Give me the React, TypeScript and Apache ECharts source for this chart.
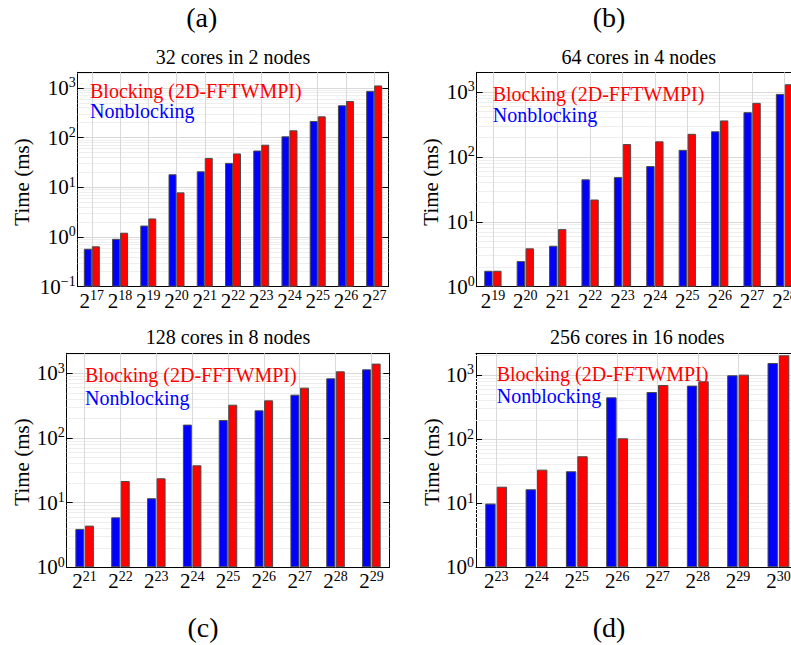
import React, { useEffect, useRef } from 'react';
import * as echarts from 'echarts';

const FONT = 'Liberation Serif';
const fontStr = (size: number) => `${size}px "Liberation Serif"`;

// ---------- data ----------
const catsA = ['2^17', '2^18', '2^19', '2^20', '2^21', '2^22', '2^23', '2^24', '2^25', '2^26', '2^27'];
const nonA = [0.58, 0.92, 1.7, 18.3, 21, 31, 55, 106, 216, 447, 870];
const blockA = [0.65, 1.22, 2.36, 7.9, 39, 48, 72, 140, 268, 545, 1120];

const catsB = ['2^19', '2^20', '2^21', '2^22', '2^23', '2^24', '2^25', '2^26', '2^27', '2^28'];
const nonB = [1.76, 2.48, 4.27, 45, 48.7, 72, 128, 247, 487, 930];
const blockB = [1.76, 3.9, 7.7, 22, 157, 173, 226, 363, 677, 1310];

const catsC = ['2^21', '2^22', '2^23', '2^24', '2^25', '2^26', '2^27', '2^28', '2^29'];
const nonC = [3.92, 5.93, 11.7, 161, 190, 268, 468, 837, 1153];
const blockC = [4.41, 21.6, 23.8, 37.8, 327, 382, 600, 1073, 1413];

const catsD = ['2^23', '2^24', '2^25', '2^26', '2^27', '2^28', '2^29', '2^30'];
const nonD = [9.85, 16.5, 31.5, 449, 543, 683, 989, 1541];
const blockD = [18.1, 33.4, 54, 103, 699, 797, 1013, 2030];

const titles = ['32 cores in 2 nodes', '64 cores in 4 nodes', '128 cores in 8 nodes', '256 cores in 16 nodes'];
const tags = ['(a)', '(b)', '(c)', '(d)'];
const legendBlocking = 'Blocking (2D-FFTWMPI)';
const legendNonblocking = 'Nonblocking';
const yName = 'Time (ms)';
const yMins = [0.1, 1, 1, 1];
const yMaxs = [2060, 2000, 2040, 2180];

const BLUE = '#0000ff';
const RED = '#ff0000';

const panels = [
  { cats: catsA, non: nonA, block: blockA, grid: { left: 77.7, top: 72.3, width: 310.6, height: 214.4 }, barWidth: 8, barGap: '0%', nameX: 22, nameY: 182, legX: 90, legY1: 91, legY2: 111, tagX: 201.7, tagY: 17, titleY: 57 },
  { cats: catsB, non: nonB, block: blockB, grid: { left: 476.7, top: 72.3, width: 324, height: 214.4 }, barWidth: 8.4, barGap: '6%', nameX: 431, nameY: 182, legX: 492.7, legY1: 94, legY2: 115, tagX: 609, tagY: 17, titleY: 57 },
  { cats: catsC, non: nonC, block: blockC, grid: { left: 66.7, top: 353.3, width: 322.6, height: 214 }, barWidth: 9, barGap: '6%', nameX: 22, nameY: 462, legX: 85, legY1: 375, legY2: 398, tagX: 203, tagY: 627, titleY: 337 },
  { cats: catsD, non: nonD, block: blockD, grid: { left: 476, top: 353.3, width: 322.6, height: 214 }, barWidth: 10.4, barGap: '10%', nameX: 432, nameY: 462, legX: 496.7, legY1: 374, legY2: 396, tagX: 609, tagY: 627, titleY: 337 },
];

function minorValues(min: number, max: number): number[] {
  const out: number[] = [];
  for (let e = Math.floor(Math.log10(min)); e <= Math.ceil(Math.log10(max)); e++) {
    for (let k = 2; k <= 9; k++) {
      const v = k * Math.pow(10, e);
      if (v > min && v < max) out.push(v);
    }
  }
  return out;
}

const rich = {
  b: { fontSize: 21, fontFamily: FONT, color: '#000', lineHeight: 24 },
  s: { fontSize: 14, fontFamily: FONT, color: '#000', lineHeight: 14, verticalAlign: 'top' },
};

function buildOption() {
  const grid: any[] = [];
  const xAxis: any[] = [];
  const yAxis: any[] = [];
  const series: any[] = [];
  const graphic: any[] = [];

  panels.forEach((p, i) => {
    grid.push({ ...p.grid, containLabel: false, outerBoundsMode: 'none' });
    const axisLine = { show: true, lineStyle: { color: '#000', width: 1 } };
    xAxis.push({
      type: 'category', gridIndex: i, data: p.cats, position: 'bottom',
      axisLine, axisTick: { show: true, inside: true, alignWithLabel: true, length: 4, lineStyle: { color: '#000' } },
      axisLabel: {
        interval: 0, margin: 2, fontSize: 21, fontFamily: FONT, color: '#000',
        formatter: (v: string) => { const [b, e] = v.split('^'); return `{b|${b}}{s|${e}}`; },
        rich,
      },
      splitLine: { show: false },
    });
    xAxis.push({
      type: 'category', gridIndex: i, data: p.cats, position: 'top',
      axisLine, axisTick: { show: true, inside: true, alignWithLabel: true, length: 4, lineStyle: { color: '#000' } },
      axisLabel: { show: false }, splitLine: { show: false },
    });
    const logAxis = {
      type: 'log', logBase: 10, gridIndex: i, min: yMins[i], max: yMaxs[i], startValue: yMins[i],
      axisLine,
      axisTick: { show: true, inside: true, length: 6, lineStyle: { color: '#000' } },
      minorTick: { show: true, splitNumber: 9, length: 3, lineStyle: { color: '#000' } },
    };
    yAxis.push({
      ...logAxis, position: 'left',
      axisLabel: {
        showMaxLabel: false, margin: 2, fontSize: 21, fontFamily: FONT, color: '#000',
        formatter: (v: number) => { const e = Math.round(Math.log10(v)); return `{b|10}{s|${e < 0 ? '\u2212' + (-e) : e}}`; },
        rich,
      },
      splitLine: { show: true, lineStyle: { color: '#d9d9d9', width: 1 } },
    });
    yAxis.push({
      ...logAxis, position: 'right', axisLabel: { show: false }, splitLine: { show: false },
    });

    series.push({
      type: 'line', xAxisIndex: 2 * i, yAxisIndex: 2 * i, data: [], silent: true, z: 1,
      markLine: {
        z: 1, silent: true, symbol: ['none', 'none'], label: { show: false },
        lineStyle: { color: '#eeeeee', width: 1, type: 'solid' },
        emphasis: { disabled: true },
        data: minorValues(yMins[i], yMaxs[i]).map((v) => ({ yAxis: v })),
      },
    });
    series.push({
      type: 'line', xAxisIndex: 2 * i, yAxisIndex: 2 * i, data: [], silent: true, z: 1,
      markLine: {
        z: 1, silent: true, symbol: ['none', 'none'], label: { show: false },
        lineStyle: { color: '#d9d9d9', width: 1, type: 'solid' },
        emphasis: { disabled: true },
        data: p.cats.map((c) => ({ xAxis: c })),
      },
    });
    const itemBorder = { borderColor: '#4a4a4a', borderWidth: 1 };
    series.push({
      type: 'bar', name: legendNonblocking, xAxisIndex: 2 * i, yAxisIndex: 2 * i, data: p.non, z: 3,
      barWidth: p.barWidth, barGap: p.barGap, itemStyle: { color: BLUE, ...itemBorder },
    });
    series.push({
      type: 'bar', name: legendBlocking, xAxisIndex: 2 * i, yAxisIndex: 2 * i, data: p.block, z: 3,
      barWidth: p.barWidth, barGap: p.barGap, itemStyle: { color: RED, ...itemBorder },
    });

    const cx = p.grid.left + p.grid.width / 2;
    graphic.push({ type: 'text', z: 10, x: p.tagX, y: p.tagY, style: { text: tags[i], font: fontStr(28), fill: '#000', textAlign: 'center', textVerticalAlign: 'middle' } });
    graphic.push({ type: 'text', z: 10, x: cx, y: p.titleY, style: { text: titles[i], font: fontStr(20), fill: '#000', textAlign: 'center', textVerticalAlign: 'middle' } });
    graphic.push({ type: 'text', z: 10, x: p.nameX, y: p.nameY, rotation: Math.PI / 2, style: { text: yName, font: fontStr(21), fill: '#000', textAlign: 'center', textVerticalAlign: 'middle' } });
    graphic.push({ type: 'text', z: 10, x: p.legX, y: p.legY1, style: { text: legendBlocking, font: fontStr(20), fill: RED, textAlign: 'left', textVerticalAlign: 'middle' } });
    graphic.push({ type: 'text', z: 10, x: p.legX, y: p.legY2, style: { text: legendNonblocking, font: fontStr(20), fill: BLUE, textAlign: 'left', textVerticalAlign: 'middle' } });
  });

  return { animation: false, backgroundColor: '#ffffff', grid, xAxis, yAxis, series, graphic };
}

export default function App() {
  const ref = useRef<HTMLDivElement>(null);
  useEffect(() => {
    if (!ref.current) return;
    const chart = echarts.init(ref.current, undefined, { renderer: 'svg' });
    chart.setOption(buildOption() as any);
    return () => chart.dispose();
  }, []);
  return <div ref={ref} style={{ position: 'absolute', left: 0, top: 0, width: 791, height: 645 }} />;
}
